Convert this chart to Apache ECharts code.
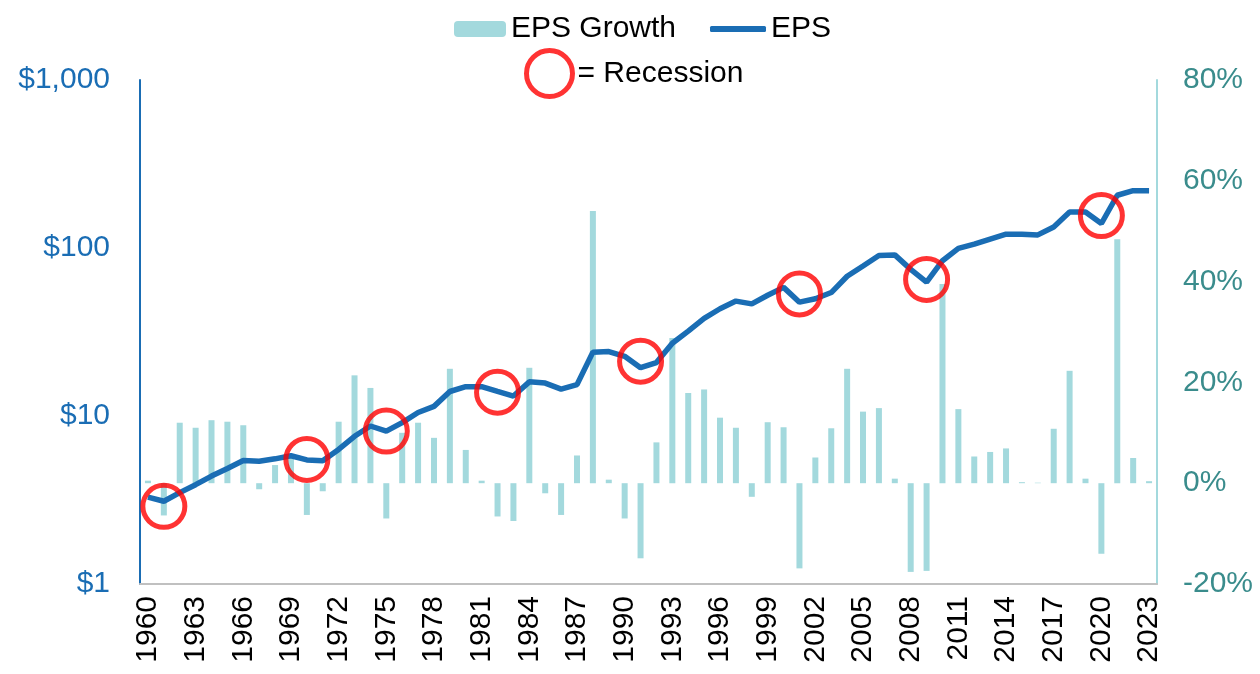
<!DOCTYPE html>
<html>
<head>
<meta charset="utf-8">
<title>EPS and EPS Growth</title>
<script src="https://cdn.jsdelivr.net/npm/echarts@6/dist/echarts.min.js"></script>
<style>
  html, body { margin: 0; padding: 0; background: #fff; }
  #main { width: 1260px; height: 674px; }
</style>
</head>
<body>
<div id="main"></div>
<script>
// years on the category axis
const years = [
  '1960','1961','1962','1963','1964','1965','1966','1967','1968','1969',
  '1970','1971','1972','1973','1974','1975','1976','1977','1978','1979',
  '1980','1981','1982','1983','1984','1985','1986','1987','1988','1989',
  '1990','1991','1992','1993','1994','1995','1996','1997','1998','1999',
  '2000','2001','2002','2003','2004','2005','2006','2007','2008','2009',
  '2010','2011','2012','2013','2014','2015','2016','2017','2018','2019',
  '2020','2021','2022','2023'
];

// EPS in dollars (left, log axis)
const eps = [
  3.29, 3.11, 3.50, 3.90, 4.39, 4.87, 5.43, 5.38, 5.56, 5.80,
  5.48, 5.41, 6.32, 7.57, 8.72, 8.12, 9.14, 10.49, 11.41, 13.99,
  14.95, 14.95, 14.0, 13.15, 15.97, 15.7, 14.46, 15.38, 23.99, 24.2,
  22.65, 19.38, 20.8, 27.1, 32.0, 38.1, 43.5, 48.3, 46.5, 52.3,
  58.3, 47.6, 49.9, 54.3, 67.9, 78.2, 90.2, 91.0, 74.6, 62.6,
  84.0, 99.5, 105.4, 113.0, 120.8, 120.8, 119.7, 133.4, 163.6, 163.6,
  139.9, 206.1, 219.3, 219.3
];

// EPS growth in percent (right axis)
const epsGrowth = [
  0.5, -6.4, 12.0, 11.0, 12.5, 12.2, 11.5, -1.2, 3.6, 5.3,
  -6.3, -1.6, 12.2, 21.4, 18.9, -7.0, 10.0, 12.0, 9.0, 22.7,
  6.6, 0.5, -6.6, -7.5, 22.9, -2.0, -6.3, 5.5, 54.0, 0.7,
  -7.0, -14.9, 8.1, 28.8, 17.9, 18.6, 13.0, 11.0, -2.7, 12.1,
  11.1, -16.9, 5.1, 10.9, 22.7, 14.2, 14.9, 0.9, -17.6, -17.4,
  39.5, 14.7, 5.3, 6.2, 6.9, 0.2, 0.1, 10.8, 22.3, 0.9,
  -14.0, 48.4, 5.0, 0.4
];

// recession markers (year, EPS level of circle centre)
const recessionYears = ['1961', '1970', '1975', '1982', '1991', '2001', '2009', '2020'];
const recessionLevels = [2.90, 5.51, 8.13, 13.86, 21.2, 53.3, 65.0, 156];

const leftTicks = [1, 10, 100, 1000];

const FONT = 'Liberation Sans, Arial, sans-serif';
const blue = '#1a6db4';
const teal = '#a3d9dd';
const tealText = '#3a8c8c';
const red = '#ff0000';

const chart = echarts.init(document.getElementById('main'));

const legendText = { fontSize: 30, color: '#000', fontFamily: FONT };

const option = {
  backgroundColor: '#fff',
  textStyle: { fontFamily: FONT },
  animation: false,
  legend: [{
    left: 449,
    top: 9,
    itemWidth: 52,
    itemHeight: 16,
    textStyle: legendText,
    data: ['EPS Growth']
  }, {
    left: 705,
    top: 9,
    itemWidth: 56,
    itemHeight: 6,
    itemGap: 0,
    textStyle: legendText,
    data: [{ name: 'EPS', icon: 'roundRect', itemStyle: { color: blue } }]
  }, {
    left: 519,
    top: 43,
    itemWidth: 46,
    itemHeight: 46,
    textStyle: legendText,
    data: [{
      name: '= Recession',
      icon: 'circle',
      itemStyle: { color: 'rgba(0,0,0,0)', borderColor: red, borderWidth: 5 }
    }]
  }],
  grid: { left: 140, right: 103, top: 80, bottom: 90 },
  xAxis: {
    type: 'category',
    data: years,
    boundaryGap: true,
    axisLine: { onZero: false, lineStyle: { color: '#c0c0c0', width: 2 } },
    axisTick: { show: false },
    axisLabel: {
      interval: 2,
      rotate: 90,
      margin: 12,
      fontSize: 30,
      color: '#000',
      fontFamily: FONT
    }
  },
  yAxis: [{
    type: 'log',
    logBase: 10,
    min: leftTicks[0],
    max: leftTicks[leftTicks.length - 1],
    position: 'left',
    axisLine: { show: true, lineStyle: { color: blue, width: 2 } },
    axisTick: { show: false },
    splitLine: { show: false },
    axisLabel: {
      margin: 30,
      fontSize: 30,
      color: blue,
      fontFamily: FONT,
      formatter: v => '$' + Number(v).toLocaleString('en-US')
    }
  }, {
    type: 'value',
    min: -20,
    max: 80,
    interval: 20,
    position: 'right',
    axisLine: { show: true, lineStyle: { color: teal, width: 2 } },
    axisTick: { show: false },
    splitLine: { show: false },
    axisLabel: {
      margin: 26,
      fontSize: 30,
      color: tealText,
      fontFamily: FONT,
      formatter: '{value}%'
    }
  }],
  series: [{
    name: 'EPS Growth',
    type: 'bar',
    yAxisIndex: 1,
    data: epsGrowth,
    barWidth: 6,
    itemStyle: { color: teal }
  }, {
    name: 'EPS',
    type: 'line',
    yAxisIndex: 0,
    data: eps,
    symbol: 'none',
    lineStyle: { color: blue, width: 5.5 },
    itemStyle: { color: blue },
    z: 3
  }, {
    name: '= Recession',
    type: 'scatter',
    yAxisIndex: 0,
    data: recessionYears.map((y, i) => [y, recessionLevels[i]]),
    symbol: 'circle',
    symbolSize: 42,
    itemStyle: { color: 'rgba(0,0,0,0)', borderColor: red, borderWidth: 5 },
    z: 4
  }]
};

chart.setOption(option);
</script>
</body>
</html>
